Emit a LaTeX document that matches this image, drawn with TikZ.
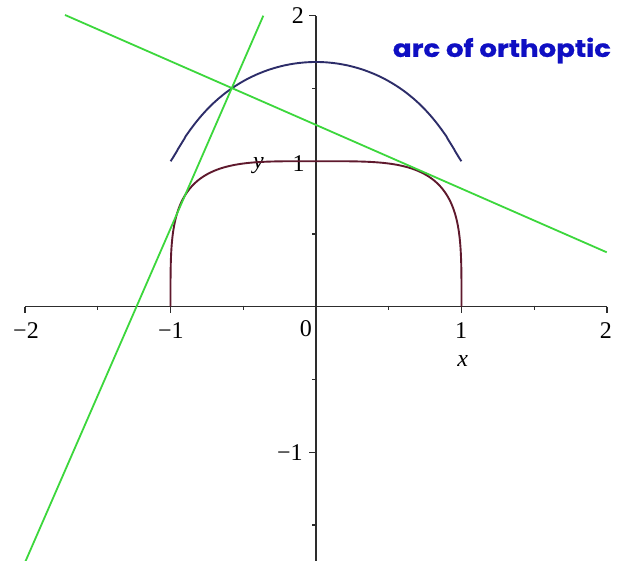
\documentclass[tikz,border=0pt]{standalone}
\usepackage{fontspec}
\setmainfont{Liberation Serif}
\newfontfamily\titlefont{Poppins}[FakeStretch=1.15, BoldFeatures={FakeBold=0.8}]
\definecolor{axiscol}{RGB}{45,45,45}
\definecolor{curvecol}{RGB}{95,25,45}
\definecolor{arccol}{RGB}{45,45,105}
\definecolor{tangcol}{RGB}{60,215,60}
\definecolor{titlecol}{RGB}{15,15,195}
\tikzset{
  axisline/.style={draw=axiscol, line width=1.2pt},
  tickmark/.style={draw=axiscol, line width=1.1pt},
  curveline/.style={draw=curvecol, line width=1.9pt, line join=round},
  arcline/.style={draw=arccol, line width=1.9pt, line join=round},
  tangline/.style={draw=tangcol, line width=1.8pt},
  lbl/.style={inner sep=0pt, font=\fontsize{24}{24}\selectfont, text=black},
  ilbl/.style={inner sep=0pt, font=\fontsize{24}{24}\selectfont\itshape, text=black},
  titlelbl/.style={inner sep=0pt, font=\titlefont\bfseries\fontsize{24}{24}\selectfont, text=titlecol}
}
\begin{document}
\begin{tikzpicture}[x=145.5pt,y=145.5pt]
\useasboundingbox (-2.1718,-1.7409) rectangle (2.1237,2.1079);
\fill[white] (-2.1718,-1.7409) rectangle (2.1237,2.1079);

% axes
\coordinate (xl) at (-2,0);
\coordinate (xr) at (2,0);
\coordinate (yb) at (0,-1.8);
\coordinate (yt) at (0,2);
\draw[axisline] (xl) -- (xr);
\draw[axisline] (yb) -- (yt);

% ticks
\foreach \t in {-2,-1,0,1,2} \draw[tickmark] (\t,0) -- ++(0,-6pt);
\foreach \t in {-1.5,-0.5,0.5,1.5} \draw[tickmark] (\t,0) ++(0,1pt) -- ++(0,-4pt);
\foreach \t in {-1,1,2} \draw[tickmark] (0,\t) -- ++(-7pt,0);
\foreach \t in {-1.5,-0.5,0.5,1.5} \draw[tickmark] (0,\t) -- ++(-3.5pt,0);

% tick labels
\node[lbl] (lxm2) at (-1.993,-0.164) {−2};
\node[lbl] (lxm1) at (-0.997,-0.167) {−1};
\node[lbl] (lx0) at (-0.069,-0.153) {0};
\node[lbl] (lx1) at (0.997,-0.167) {1};
\node[lbl] (lx2) at (1.993,-0.167) {2};
\node[ilbl] (lx) at (1.008,-0.373) {x};
\node[lbl] (ly2) at (-0.124,1.998) {2};
\node[lbl] (ly1) at (-0.120,0.984) {1};
\node[lbl] (lym1) at (-0.179,-1.002) {−1};
\node[ilbl] (ly) at (-0.395,0.970) {y};

% curve x^4 + y^4 = 1 (upper half)
\draw[curveline] plot[domain=0:180, samples=361, variable=\t]
  ({ifthenelse(cos(\t)<0,-1,1)*sqrt(abs(cos(\t)))},{sqrt(abs(sin(\t)))});

% orthoptic arc
\draw[arcline] (1,1) -- plot[domain=0.2:89.8, samples=150, variable=\t]
  ({pow(pow(cos(\t),1.33333)+pow(sin(\t),1.33333),0.75)*(cos(\t)-sin(\t))},
   {pow(pow(cos(\t),1.33333)+pow(sin(\t),1.33333),0.75)*(cos(\t)+sin(\t))}) -- (-1,1);

% tangent lines
\coordinate (t1a) at (-1.725,2.005);
\coordinate (t1b) at (1.998,0.374);
\coordinate (t2a) at (-0.362,2.000);
\coordinate (t2b) at (-2.0185,-1.8);
\draw[tangline] (t1a) -- (t1b);
\draw[tangline] (t2a) -- (t2b);

% title
\node[titlelbl] (title) at (1.278,1.761) {arc of orthoptic};
\end{tikzpicture}
\end{document}
